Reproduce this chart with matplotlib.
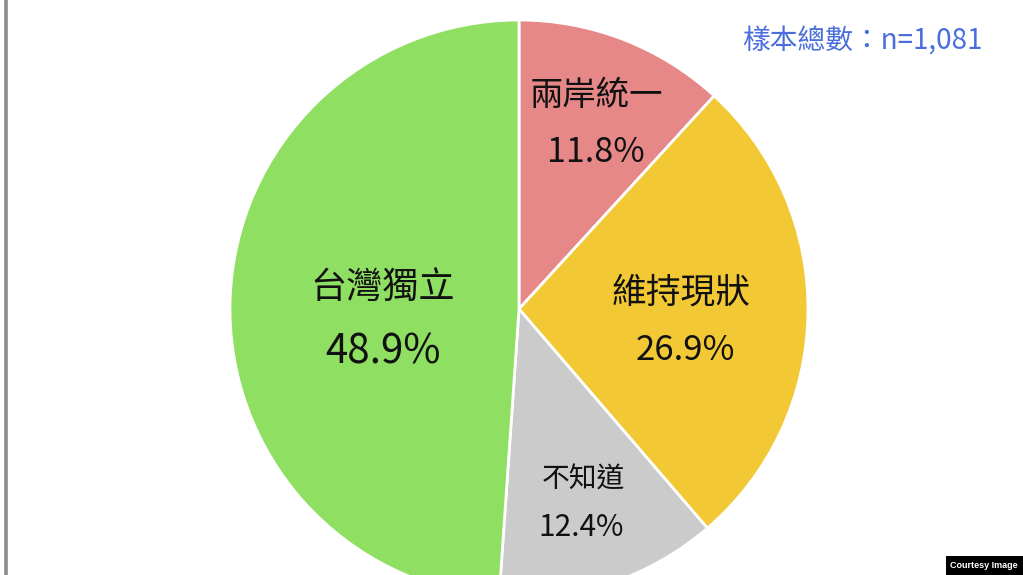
import matplotlib
matplotlib.use("Agg")
import matplotlib.pyplot as plt
from matplotlib.patches import Rectangle
from matplotlib.lines import Line2D

plt.rcParams['font.family'] = ['Noto Sans CJK TC', 'DejaVu Sans']

categories = ['兩岸統一', '維持現狀', '不知道', '台灣獨立']
values = [11.8, 26.9, 12.4, 48.9]
pct_labels = ['11.8%', '26.9%', '12.4%', '48.9%']
colors = ['#e58887', '#f2c935', '#cbcbcb', '#8fdf62']
sample_text = '樣本總數：n=1,081'

W, H = 1023, 575
fig = plt.figure(figsize=(W / 100, H / 100), dpi=100)
ax = fig.add_axes([0, 0, 1, 1])

cx, cy, R = 519, H - 309, 289
wedges, _ = ax.pie(values, colors=colors, startangle=90, counterclock=False,
                   center=(cx, cy), radius=R,
                   wedgeprops=dict(edgecolor='white', linewidth=2))
ax.set_xlim(0, W)
ax.set_ylim(0, H)
ax.set_aspect('auto')
ax.axis('off')

# label placement (pixel centers, name then percent)
name_pos = [(596, 95), (681, 293), (583, 480), (383, 288)]
pct_pos = [(596, 152), (685, 350), (581, 528), (383, 352)]
name_size = [24, 25, 20, 26]
pct_size = [24.5, 25, 21.5, 29]
for i, cat in enumerate(categories):
    nx, ny = name_pos[i]
    px, py = pct_pos[i]
    ax.text(nx, H - ny, cat, ha='center', va='center', fontsize=name_size[i], color='#111111')
    ax.text(px, H - py, pct_labels[i], ha='center', va='center', fontsize=pct_size[i], color='#111111')

ax.text(862, H - 42, sample_text, ha='center', va='center', fontsize=20, color='#4a6fdc')

# left border line
ax.add_line(Line2D([5.5, 5.5], [0, H], color='#8c8c8c', linewidth=2.6))

# courtesy box
ax.add_patch(Rectangle((946, 0), W - 946, 19, facecolor='black', edgecolor='none', zorder=5))
ax.text(984, 9.5, 'Courtesy Image', ha='center', va='center', fontsize=6.5,
        fontweight='bold', color='white', family=['Liberation Sans', 'DejaVu Sans'], zorder=6)

fig.savefig('out.png', dpi=100, facecolor='white')
